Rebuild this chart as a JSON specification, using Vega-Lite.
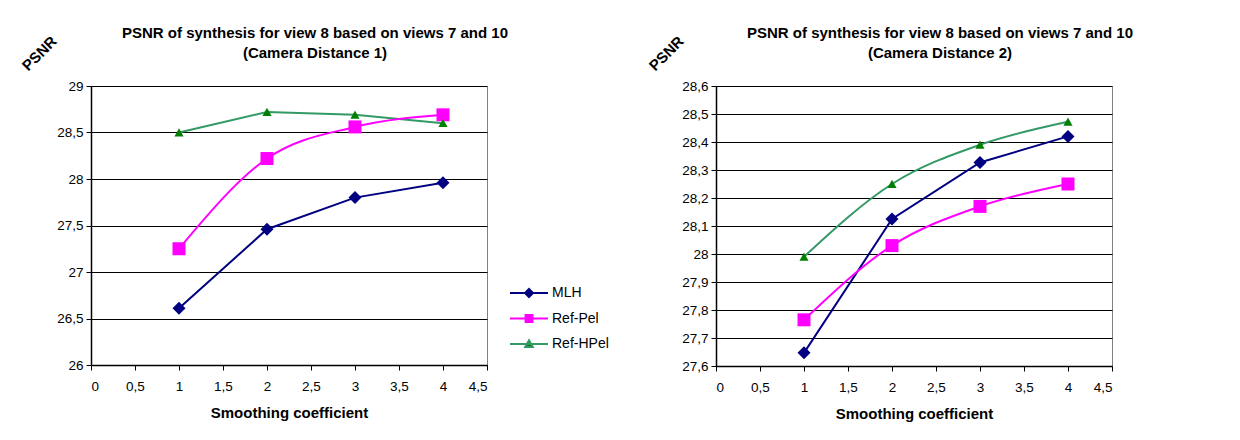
{
  "$schema": "https://vega.github.io/schema/vega-lite/v6.json",
  "background": "white",
  "padding": {"left": 18, "top": 25, "right": 5, "bottom": 2},
  "bounds": "flush",
  "spacing": 229,
  "datasets": {
    "d1": [
      {"series": "MLH", "x": 1, "y": 26.61},
      {"series": "MLH", "x": 2, "y": 27.46},
      {"series": "MLH", "x": 3, "y": 27.8},
      {"series": "MLH", "x": 4, "y": 27.96},
      {"series": "Ref-Pel", "x": 1, "y": 27.25},
      {"series": "Ref-Pel", "x": 2, "y": 28.22},
      {"series": "Ref-Pel", "x": 3, "y": 28.56},
      {"series": "Ref-Pel", "x": 4, "y": 28.69},
      {"series": "Ref-HPel", "x": 1, "y": 28.5},
      {"series": "Ref-HPel", "x": 2, "y": 28.72},
      {"series": "Ref-HPel", "x": 3, "y": 28.69},
      {"series": "Ref-HPel", "x": 4, "y": 28.6}
    ],
    "d2": [
      {"series": "MLH", "x": 1, "y": 27.647},
      {"series": "MLH", "x": 2, "y": 28.125},
      {"series": "MLH", "x": 3, "y": 28.327},
      {"series": "MLH", "x": 4, "y": 28.42},
      {"series": "Ref-Pel", "x": 1, "y": 27.765},
      {"series": "Ref-Pel", "x": 2, "y": 28.03},
      {"series": "Ref-Pel", "x": 3, "y": 28.17},
      {"series": "Ref-Pel", "x": 4, "y": 28.25},
      {"series": "Ref-HPel", "x": 1, "y": 27.99},
      {"series": "Ref-HPel", "x": 2, "y": 28.25},
      {"series": "Ref-HPel", "x": 3, "y": 28.39},
      {"series": "Ref-HPel", "x": 4, "y": 28.472}
    ]
  },
  "config": {
    "font": "Liberation Sans",
    "view": {"stroke": "#808080", "strokeWidth": 1},
    "axis": {
      "labelFont": "Liberation Sans",
      "labelFontSize": 13.5,
      "labelColor": "black",
      "labelOverlap": false,
      "titleFont": "Liberation Sans",
      "titleFontSize": 15,
      "titleFontWeight": "bold",
      "titleColor": "black",
      "domainColor": "black",
      "domainWidth": 1.5,
      "tickColor": "black",
      "tickSize": 5,
      "gridColor": "black",
      "gridOpacity": 1,
      "gridWidth": 1
    },
    "title": {
      "font": "Liberation Sans",
      "fontSize": 15,
      "fontWeight": "bold",
      "color": "black",
      "lineHeight": 20,
      "anchor": "middle",
      "dx": 26,
      "offset": -28
    },
    "legend": {
      "labelFont": "Liberation Sans",
      "labelFontSize": 14,
      "labelColor": "black"
    }
  },
  "hconcat": [
    {
      "width": 396,
      "height": 279,
      "data": {"name": "d1"},
      "title": {"text": ["PSNR of synthesis for view 8 based on views 7 and 10", "(Camera Distance 1)"]},
      "encoding": {
        "x": {"field": "x", "type": "quantitative", "scale": {"domain": [0, 4.5], "nice": false, "zero": false},
          "axis": {"values": [0, 0.5, 1, 1.5, 2, 2.5, 3, 3.5, 4, 4.5], "grid": false, "title": "Smoothing coefficient", "labelPadding": 9, "titlePadding": 13, "labelExpr": "replace(toString(datum.value), '.', ',')"}},
        "y": {"field": "y", "type": "quantitative", "scale": {"domain": [26, 29], "nice": false, "zero": false},
          "axis": {"values": [26, 26.5, 27, 27.5, 28, 28.5, 29], "grid": true, "title": "PSNR", "titleAngle": -45, "titleX": -52, "titleY": -33, "titleAlign": "center", "titleBaseline": "middle", "labelPadding": 3, "labelExpr": "replace(toString(datum.value), '.', ',')"}}
      },
      "layer": [
        {
          "transform": [{"filter": "datum.series !== 'Ref-Pel'"}],
          "mark": {"type": "line", "interpolate": "linear", "strokeWidth": 2},
          "encoding": {
            "color": {"field": "series", "type": "nominal",
              "scale": {"domain": ["MLH", "Ref-Pel", "Ref-HPel"], "range": ["#000080", "#FF00FF", "#339966"]},
              "legend": {"orient": "none", "legendX": 418, "legendY": 199, "title": null, "padding": 0,
                "symbolSize": 1444, "clipHeight": 16, "rowPadding": 9.5, "labelOffset": 3, "symbolStrokeWidth": 2,
                "values": ["MLH", "Ref-Pel", "Ref-HPel"],
                "encode": {"symbols": {"update": {
                  "shape": {"signal": "datum.value === 'MLH' ? 'M-1,0H1M0,-0.21L0.21,0L0,0.21L-0.21,0Z' : datum.value === 'Ref-Pel' ? 'M-1,0H1M-0.18,-0.18H0.18V0.18H-0.18Z' : 'M-1,0H1M0,-0.2L0.2,0.16H-0.2Z'"},
                  "fill": {"signal": "datum.value === 'MLH' ? '#000080' : datum.value === 'Ref-Pel' ? '#FF00FF' : '#008000'"},
                  "stroke": {"signal": "datum.value === 'MLH' ? '#000080' : datum.value === 'Ref-Pel' ? '#FF00FF' : '#339966'"},
                  "opacity": {"value": 1}
                }}}}}
          }
        },
        {
          "transform": [{"filter": "datum.series === 'Ref-Pel'"}],
          "mark": {"type": "line", "interpolate": "monotone", "strokeWidth": 2},
          "encoding": {
            "color": {"field": "series", "type": "nominal", "legend": null}
          }
        },
        {
          "transform": [{"filter": "datum.series === 'MLH'"}],
          "mark": {"type": "point", "filled": true, "opacity": 1, "size": 169, "strokeWidth": 0, "color": "#000080", "shape": "M0,-1L1,0L0,1L-1,0Z"}
        },
        {
          "transform": [{"filter": "datum.series === 'Ref-Pel'"}],
          "mark": {"type": "point", "filled": true, "opacity": 1, "size": 169, "strokeWidth": 0, "color": "#FF00FF", "shape": "M-1,-1H1V1H-1Z"}
        },
        {
          "transform": [{"filter": "datum.series === 'Ref-HPel'"}],
          "mark": {"type": "point", "filled": true, "opacity": 1, "size": 169, "strokeWidth": 0, "color": "#008000", "shape": "M0,-0.65L0.7,0.6H-0.7Z"}
        }
      ]
    },
    {
      "width": 396,
      "height": 280,
      "data": {"name": "d2"},
      "title": {"text": ["PSNR of synthesis for view 8 based on views 7 and 10", "(Camera Distance 2)"]},
      "encoding": {
        "x": {"field": "x", "type": "quantitative", "scale": {"domain": [0, 4.5], "nice": false, "zero": false},
          "axis": {"values": [0, 0.5, 1, 1.5, 2, 2.5, 3, 3.5, 4, 4.5], "grid": false, "title": "Smoothing coefficient", "labelPadding": 9, "titlePadding": 13, "labelExpr": "replace(toString(datum.value), '.', ',')"}},
        "y": {"field": "y", "type": "quantitative", "scale": {"domain": [27.6, 28.6], "nice": false, "zero": false},
          "axis": {"values": [27.6, 27.7, 27.8, 27.9, 28, 28.1, 28.2, 28.3, 28.4, 28.5, 28.6], "grid": true, "title": "PSNR", "titleAngle": -45, "titleX": -50, "titleY": -33, "titleAlign": "center", "titleBaseline": "middle", "labelPadding": 3, "labelExpr": "replace(toString(datum.value), '.', ',')"}}
      },
      "layer": [
        {
          "transform": [{"filter": "datum.series === 'MLH'"}],
          "mark": {"type": "line", "interpolate": "linear", "strokeWidth": 2},
          "encoding": {
            "color": {"field": "series", "type": "nominal",
              "scale": {"domain": ["MLH", "Ref-Pel", "Ref-HPel"], "range": ["#000080", "#FF00FF", "#339966"]},
              "legend": {"orient": "none", "legendX": 420, "legendY": 200, "title": null, "padding": 0,
                "symbolSize": 1444, "clipHeight": 16, "rowPadding": 9.5, "labelOffset": 3, "symbolStrokeWidth": 2,
                "values": ["MLH", "Ref-Pel", "Ref-HPel"],
                "encode": {"symbols": {"update": {
                  "shape": {"signal": "datum.value === 'MLH' ? 'M-1,0H1M0,-0.21L0.21,0L0,0.21L-0.21,0Z' : datum.value === 'Ref-Pel' ? 'M-1,0H1M-0.18,-0.18H0.18V0.18H-0.18Z' : 'M-1,0H1M0,-0.2L0.2,0.16H-0.2Z'"},
                  "fill": {"signal": "datum.value === 'MLH' ? '#000080' : datum.value === 'Ref-Pel' ? '#FF00FF' : '#008000'"},
                  "stroke": {"signal": "datum.value === 'MLH' ? '#000080' : datum.value === 'Ref-Pel' ? '#FF00FF' : '#339966'"},
                  "opacity": {"value": 1}
                }}}}}
          }
        },
        {
          "transform": [{"filter": "datum.series !== 'MLH'"}],
          "mark": {"type": "line", "interpolate": "monotone", "strokeWidth": 2},
          "encoding": {
            "color": {"field": "series", "type": "nominal", "legend": null}
          }
        },
        {
          "transform": [{"filter": "datum.series === 'MLH'"}],
          "mark": {"type": "point", "filled": true, "opacity": 1, "size": 169, "strokeWidth": 0, "color": "#000080", "shape": "M0,-1L1,0L0,1L-1,0Z"}
        },
        {
          "transform": [{"filter": "datum.series === 'Ref-Pel'"}],
          "mark": {"type": "point", "filled": true, "opacity": 1, "size": 169, "strokeWidth": 0, "color": "#FF00FF", "shape": "M-1,-1H1V1H-1Z"}
        },
        {
          "transform": [{"filter": "datum.series === 'Ref-HPel'"}],
          "mark": {"type": "point", "filled": true, "opacity": 1, "size": 169, "strokeWidth": 0, "color": "#008000", "shape": "M0,-0.65L0.7,0.6H-0.7Z"}
        }
      ]
    }
  ]
}
